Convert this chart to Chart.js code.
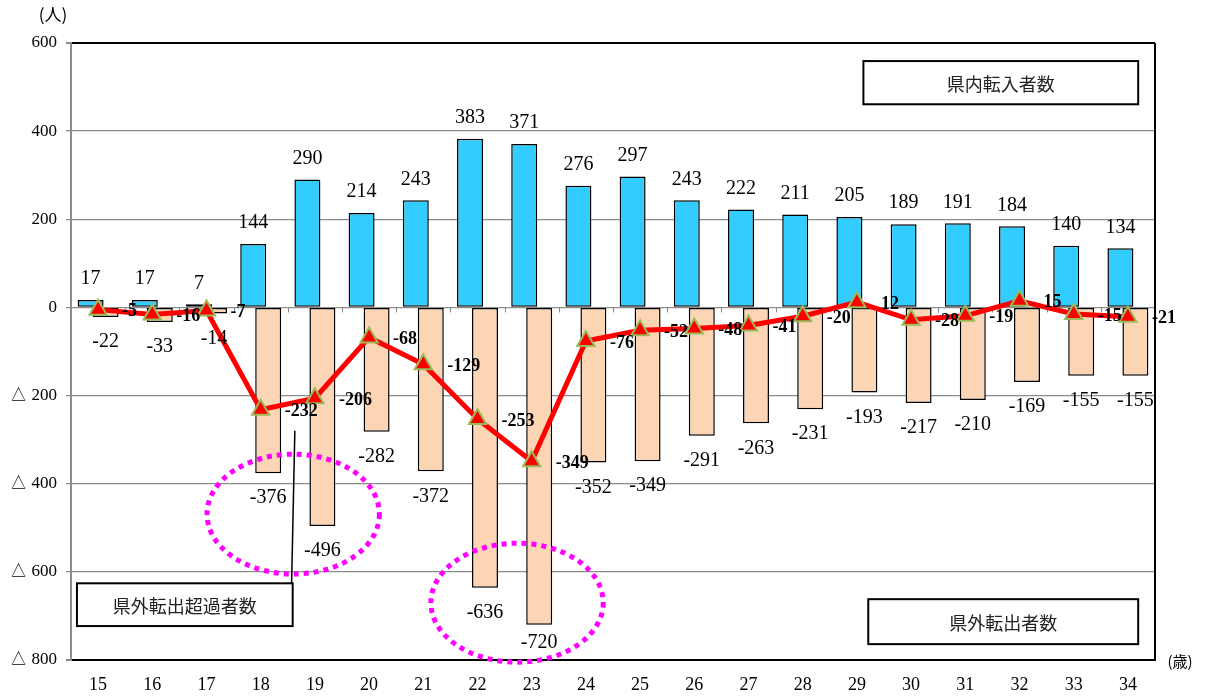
<!DOCTYPE html>
<html lang="ja">
<head>
<meta charset="utf-8">
<title>年齢別 転入・転出者数</title>
<script src="https://cdn.jsdelivr.net/npm/chart.js@4.4.1/dist/chart.umd.min.js"></script>
<style>
  html, body { margin: 0; padding: 0; background: #fff; }
  #chart { display: block; }
</style>
</head>
<body>
<canvas id="chart" width="1208" height="697"></canvas>
<script>
// 年齢(歳)
const ages = ['15', '16', '17', '18', '19', '20', '21', '22', '23', '24',
              '25', '26', '27', '28', '29', '30', '31', '32', '33', '34'];
// 県内転入者数
const inMovers = [17, 17, 7, 144, 290, 214, 243, 383, 371, 276,
                  297, 243, 222, 211, 205, 189, 191, 184, 140, 134];
// 県外転出者数
const outMovers = [-22, -33, -14, -376, -496, -282, -372, -636, -720, -352,
                   -349, -291, -263, -231, -193, -217, -210, -169, -155, -155];
// 県外転出超過者数
const netOut = [-5, -16, -7, -232, -206, -68, -129, -253, -349, -76,
                -52, -48, -41, -20, 12, -28, -19, 15, -15, -21];
const yTicks = [600, 400, 200, 0, -200, -400, -600, -800];

const serif = '"Liberation Serif", "Times New Roman", serif';
const jp = '"Noto Sans CJK JP", "Noto Sans", sans-serif';

// 注記 (x はカテゴリ位置, y は人数)
const notes = {
  boxes: [
    { text: '県内転入者数', x0: 14.12, x1: 19.19, y0: 559, y1: 461 },
    { text: '県外転出者数', x0: 14.21, x1: 19.19, y0: -662, y1: -764 },
    { text: '県外転出超過者数', x0: -0.39, x1: 3.59, y0: -626, y1: -723 }
  ],
  pointer: { x0: 3.57, y0: -626, x1: 3.63, y1: -280 },
  circles: [
    { x: 3.6, y: -469, rx: 1.59, ry: 136 },
    { x: 7.73, y: -670, rx: 1.59, ry: 135 }
  ]
};

const px = (chart, i) => chart.scales.x.getPixelForValue(i);
const py = (chart, v) => chart.scales.y.getPixelForValue(v);

const bgPlugin = {
  id: 'bg',
  beforeDraw(chart) {
    const ctx = chart.ctx;
    ctx.save();
    ctx.fillStyle = '#fff';
    ctx.fillRect(0, 0, chart.width, chart.height);
    ctx.restore();
  },
  beforeDatasetsDraw(chart) {
    // 0 線の目盛り
    const ctx = chart.ctx;
    const y0 = py(chart, 0);
    ctx.save();
    ctx.strokeStyle = '#888';
    ctx.lineWidth = 1;
    for (let i = 0; i < ages.length; i++) {
      const x = Math.round(px(chart, i + 0.5)) + 0.5;
      ctx.beginPath();
      ctx.moveTo(x, y0);
      ctx.lineTo(x, y0 + 5);
      ctx.stroke();
    }
    ctx.restore();
  }
};

const labelPlugin = {
  id: 'labels',
  afterDatasetsDraw(chart) {
    const ctx = chart.ctx;
    const area = chart.chartArea;
    ctx.save();
    ctx.fillStyle = '#000';
    ctx.textBaseline = 'middle';

    // 転入
    ctx.font = '20px ' + serif;
    ctx.textAlign = 'center';
    chart.getDatasetMeta(1).data.forEach((el, i) => {
      ctx.fillText(String(inMovers[i]), el.x, el.y - 21);
    });
    // 転出
    chart.getDatasetMeta(2).data.forEach((el, i) => {
      const y = Math.min(el.y + 25, area.bottom - 17);
      ctx.fillText(String(outMovers[i]), el.x, y);
    });
    // 超過
    ctx.font = 'bold 18px ' + serif;
    ctx.textAlign = 'left';
    chart.getDatasetMeta(0).data.forEach((el, i) => {
      ctx.fillText(String(netOut[i]), el.x + 24, el.y + 2);
    });

    // 枠線 (右)
    ctx.strokeStyle = '#000';
    ctx.lineWidth = 2;
    ctx.beginPath();
    ctx.moveTo(area.right, area.top);
    ctx.lineTo(area.right, area.bottom);
    ctx.stroke();

    // 点線の楕円
    ctx.strokeStyle = '#ff00ff';
    ctx.lineWidth = 5;
    ctx.setLineDash([5, 5]);
    notes.circles.forEach(c => {
      const cx = px(chart, c.x), cy = py(chart, c.y);
      const rx = px(chart, c.x + c.rx) - cx;
      const ry = py(chart, c.y - c.ry) - cy;
      ctx.beginPath();
      ctx.ellipse(cx, cy, rx, ry, 0, 0, Math.PI * 2);
      ctx.stroke();
    });
    ctx.setLineDash([]);

    // 引き出し線
    const p = notes.pointer;
    ctx.strokeStyle = '#000';
    ctx.lineWidth = 1.5;
    ctx.beginPath();
    ctx.moveTo(px(chart, p.x0), py(chart, p.y0));
    ctx.lineTo(px(chart, p.x1), py(chart, p.y1));
    ctx.stroke();

    // テキストボックス
    ctx.font = '18px ' + jp;
    ctx.textAlign = 'center';
    notes.boxes.forEach(b => {
      const x0 = px(chart, b.x0), x1 = px(chart, b.x1);
      const y0 = py(chart, b.y0), y1 = py(chart, b.y1);
      ctx.fillStyle = '#fff';
      ctx.fillRect(x0, y0, x1 - x0, y1 - y0);
      ctx.strokeStyle = '#000';
      ctx.lineWidth = 2;
      ctx.strokeRect(x0, y0, x1 - x0, y1 - y0);
      ctx.fillStyle = '#222';
      ctx.fillText(b.text, (x0 + x1) / 2, (y0 + y1) / 2 + 1);
    });

    // 単位
    ctx.font = '17px ' + jp;
    ctx.fillStyle = '#000';
    ctx.textAlign = 'center';
    ctx.fillText('(人)', 53, 15);
    ctx.font = '15px ' + jp;
    ctx.fillText('(歳)', 1180, 661);
    ctx.restore();
  }
};

new Chart(document.getElementById('chart'), {
  type: 'bar',
  data: {
    labels: ages,
    datasets: [
      {
        type: 'line',
        label: '県外転出超過者数',
        data: netOut,
        order: 0,
        borderColor: '#ff0000',
        borderWidth: 5,
        pointStyle: 'triangle',
        pointRadius: 10,
        pointBackgroundColor: '#ff0000',
        pointBorderColor: '#9bbb59',
        pointBorderWidth: 2,
        tension: 0
      },
      {
        label: '県内転入者数',
        data: inMovers,
        order: 1,
        backgroundColor: '#33ccff',
        borderColor: '#000',
        borderWidth: 1.5,
        borderSkipped: false
      },
      {
        label: '県外転出者数',
        data: outMovers,
        order: 2,
        backgroundColor: '#fcd5b4',
        borderColor: '#000',
        borderWidth: 1.5,
        borderSkipped: false
      }
    ]
  },
  options: {
    responsive: false,
    animation: false,
    categoryPercentage: 0.553,
    barPercentage: 1.733,
    layout: { padding: { top: 43, right: 53, bottom: 0, left: 0 } },
    plugins: {
      legend: { display: false },
      tooltip: { enabled: false }
    },
    scales: {
      x: {
        grid: { display: false, drawTicks: false },
        border: { color: '#000', width: 2 },
        ticks: { color: '#000', font: { family: serif, size: 18 }, padding: 14 },
        afterFit(scale) { scale.height = 37; }
      },
      y: {
        min: -800,
        max: 600,
        afterBuildTicks(scale) { scale.ticks = yTicks.map(v => ({ value: v })); },
        grid: {
          color: c => (c.tick && (c.tick.value === 600 || c.tick.value === -800)) ? '#000' : '#8c8c8c',
          lineWidth: c => (c.tick && (c.tick.value === 600 || c.tick.value === -800)) ? 2 : 1.3,
          tickColor: '#8c8c8c',
          tickLength: 5
        },
        border: { color: '#8c8c8c', width: 2 },
        ticks: {
          color: '#000',
          font: { family: serif, size: 17 },
          padding: 9,
          callback: v => v < 0 ? '△ ' + (-v) : String(v)
        },
        afterFit(scale) { scale.width = 71; }
      }
    }
  },
  plugins: [bgPlugin, labelPlugin]
});
</script>
</body>
</html>
